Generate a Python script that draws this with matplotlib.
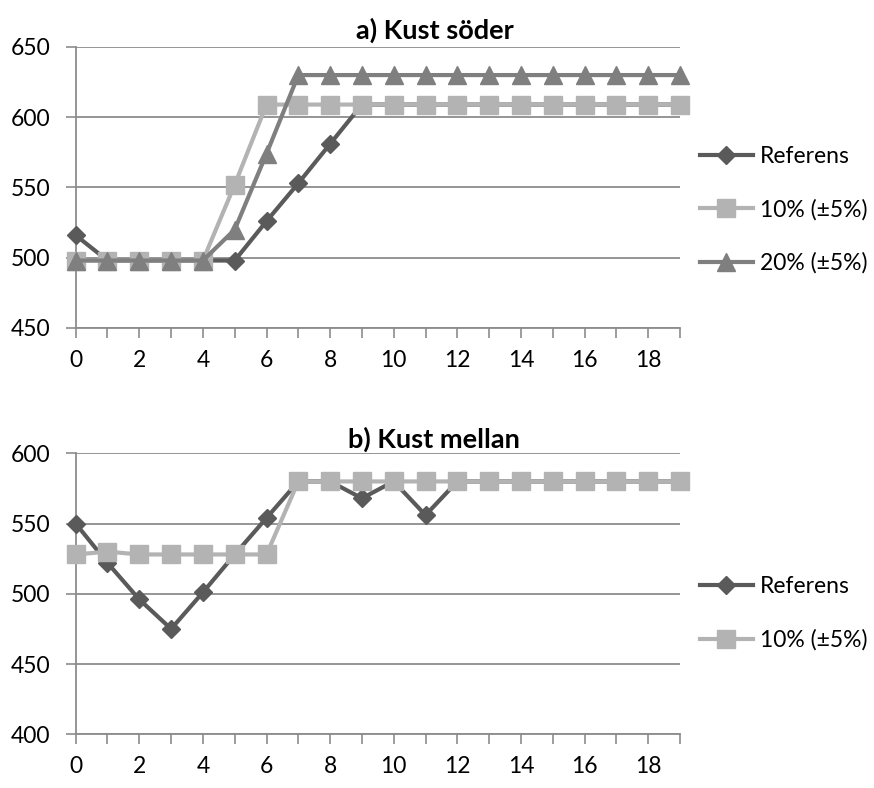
import matplotlib
matplotlib.use("Agg")
import matplotlib.pyplot as plt
from matplotlib.lines import Line2D

plt.rcParams['font.family'] = ['Lato', 'DejaVu Sans']

x = list(range(20))

# a) Kust söder
a_ref = [516, 498, 498, 498, 498, 498, 526, 553, 581, 609, 609, 609, 609, 609, 609, 609, 609, 609, 609, 609]
a_10 = [498, 498, 498, 498, 498, 552, 609, 609, 609, 609, 609, 609, 609, 609, 609, 609, 609, 609, 609, 609]
a_20 = [498, 498, 498, 498, 498, 520, 574, 630, 630, 630, 630, 630, 630, 630, 630, 630, 630, 630, 630, 630]

# b) Kust mellan
b_ref = [550, 522, 496, 475, 501, 528, 554, 580, 580, 568, 580, 556, 580, 580, 580, 580, 580, 580, 580, 580]
b_10 = [528, 530, 528, 528, 528, 528, 528, 580, 580, 580, 580, 580, 580, 580, 580, 580, 580, 580, 580, 580]

labels = ["Referens", "10% (±5%)", "20% (±5%)"]
c_ref = "#5a5a5a"
c_10 = "#b3b3b3"
c_20 = "#7f7f7f"
grid_c = "#8c8c8c"
lw = 3.0
fs = 16.5

fig = plt.figure(figsize=(8.74, 7.88), dpi=100)
ax1 = fig.add_axes([0.0866, 0.5838, 0.6914, 0.3566])
ax2 = fig.add_axes([0.0866, 0.0682, 0.6914, 0.3565])


def style(ax, ylim, yticks):
    ax.set_xlim(0, 19)
    ax.set_ylim(*ylim)
    ax.set_yticks(yticks)
    ax.set_xticks(x)
    ax.set_xticklabels([str(v) if v % 2 == 0 else "" for v in x])
    for s in ["top", "right"]:
        ax.spines[s].set_visible(False)
    for s in ["left", "bottom"]:
        ax.spines[s].set_color(grid_c)
        ax.spines[s].set_linewidth(1.3)
    ax.yaxis.grid(True, color=grid_c, linewidth=1.3)
    ax.set_axisbelow(True)
    ax.tick_params(axis="x", direction="out", length=7, width=1.2, color=grid_c, labelsize=fs, pad=9)
    ax.tick_params(axis="y", direction="out", length=7, width=1.2, color=grid_c, labelsize=fs, pad=11)
    for t in ax.get_xticklabels() + ax.get_yticklabels():
        t.set_clip_on(False)


# top
style(ax1, (450, 650), [450, 500, 550, 600, 650])
ax1.plot(x, a_ref, color=c_ref, lw=lw, marker="D", ms=9.5, clip_on=False, zorder=3)
ax1.plot(x, a_10, color=c_10, lw=lw, marker="s", ms=13, clip_on=False, zorder=4)
ax1.plot(x, a_20, color=c_20, lw=lw, marker="^", ms=13, clip_on=False, zorder=5)
fig.text(0.497, 0.961, "a) Kust söder", ha="center", va="center", fontsize=19.5, fontweight="bold")

h1 = [Line2D([], [], color=c_ref, lw=lw, marker="D", ms=9),
      Line2D([], [], color=c_10, lw=lw, marker="s", ms=13),
      Line2D([], [], color=c_20, lw=lw, marker="^", ms=13)]
fig.legend(h1, labels, loc="upper left", bbox_to_anchor=(0.801, 0.815), frameon=False,
           fontsize=fs, handlelength=2.3, handletextpad=0.3, labelspacing=1.4, borderpad=0,
           borderaxespad=0)

# bottom
style(ax2, (400, 600), [400, 450, 500, 550, 600])
ax2.plot(x, b_ref, color=c_ref, lw=lw, marker="D", ms=9.5, clip_on=False, zorder=3)
ax2.plot(x, b_10, color=c_10, lw=lw, marker="s", ms=13, clip_on=False, zorder=4)
fig.text(0.497, 0.442, "b) Kust mellan", ha="center", va="center", fontsize=19.5, fontweight="bold")

h2 = [Line2D([], [], color=c_ref, lw=lw, marker="D", ms=9),
      Line2D([], [], color=c_10, lw=lw, marker="s", ms=13)]
fig.legend(h2, labels[:2], loc="upper left", bbox_to_anchor=(0.801, 0.269), frameon=False,
           fontsize=fs, handlelength=2.3, handletextpad=0.3, labelspacing=1.4, borderpad=0,
           borderaxespad=0)

fig.savefig("out.png", dpi=100)
